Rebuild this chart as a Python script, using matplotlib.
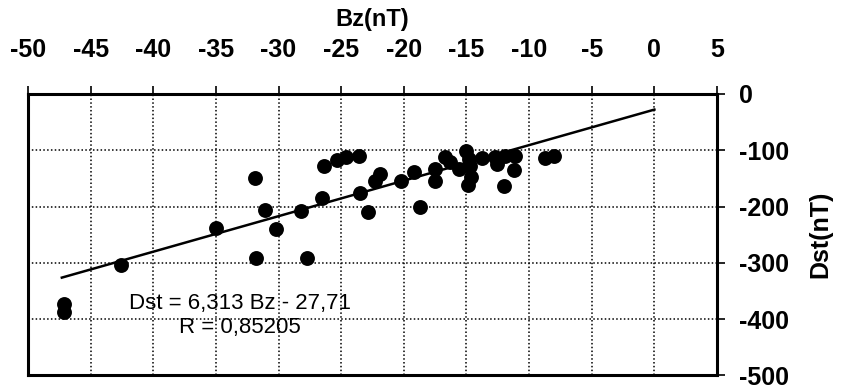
import numpy as np
import matplotlib.pyplot as plt

# Bz (nT) and Dst (nT)
bz = [-47.1, -47.1, -42.6, -35.0, -31.9, -31.8, -31.1, -30.2, -28.2, -27.7,
      -26.5, -26.4, -25.3, -24.6, -23.6, -23.5, -22.9, -22.3, -21.9, -20.2,
      -19.2, -18.7, -17.5, -17.5, -16.7, -16.3, -15.6, -15.0, -14.8, -14.7,
      -14.6, -14.9, -13.8, -12.7, -12.6, -11.9, -12.0, -11.1, -11.2, -8.7,
      -8.0]
dst = [-374, -388, -303, -238, -149, -292, -206, -240, -208, -291,
       -185, -128, -118, -112, -110, -176, -209, -154, -142, -154,
       -138, -201, -133, -154, -112, -121, -133, -102, -116, -128,
       -147, -161, -114, -112, -125, -110, -164, -110, -135, -114,
       -110]

slope = 6.313
intercept = -27.71
fit_x = [-47.3, 0]

xticks = list(range(-50, 6, 5))
yticks = [0, -100, -200, -300, -400, -500]


def main():
    plt.rcParams['axes.unicode_minus'] = False
    fig = plt.figure(figsize=(8.41, 3.91), dpi=100)
    ax = fig.add_axes([0.0333, 0.04, 0.8193, 0.7196])

    ax.scatter(bz, dst, s=115, color='black', zorder=3, linewidths=0)
    fx = np.array(fit_x)
    ax.plot(fx, slope * fx + intercept, color='black', lw=1.8, zorder=2)

    ax.set_xlim(-50, 5)
    ax.set_ylim(-500, 0)
    ax.set_xticks(xticks)
    ax.set_yticks(yticks)

    ax.xaxis.tick_top()
    ax.xaxis.set_label_position('top')
    ax.yaxis.tick_right()
    ax.yaxis.set_label_position('right')
    ax.tick_params(axis='x', direction='out', length=6, width=1.2,
                   labelsize=18, pad=17)
    ax.tick_params(axis='y', direction='out', length=6, width=1.2,
                   labelsize=18, pad=10)
    for lab in ax.get_xticklabels() + ax.get_yticklabels():
        lab.set_fontweight('bold')
        lab.set_family('Liberation Sans')

    ax.set_xlabel('Bz(nT)', fontsize=17, fontweight='bold',
                  family='Liberation Sans', labelpad=9)
    ax.set_ylabel('Dst(nT)', fontsize=18, fontweight='bold',
                  family='Liberation Sans', labelpad=14)

    ax.grid(True, color='black', linestyle=(0, (1, 1.5)), lw=1.1)
    for sp in ax.spines.values():
        sp.set_linewidth(2.2)

    ax.text(-33.1, -372, 'Dst = 6,313 Bz - 27,71', ha='center', va='center',
            fontsize=16, family='Liberation Sans')
    ax.text(-33.1, -415, 'R = 0,85205', ha='center', va='center',
            fontsize=16, family='Liberation Sans')

    fig.savefig('out.png', dpi=100)


if __name__ == "__main__":
    main()
